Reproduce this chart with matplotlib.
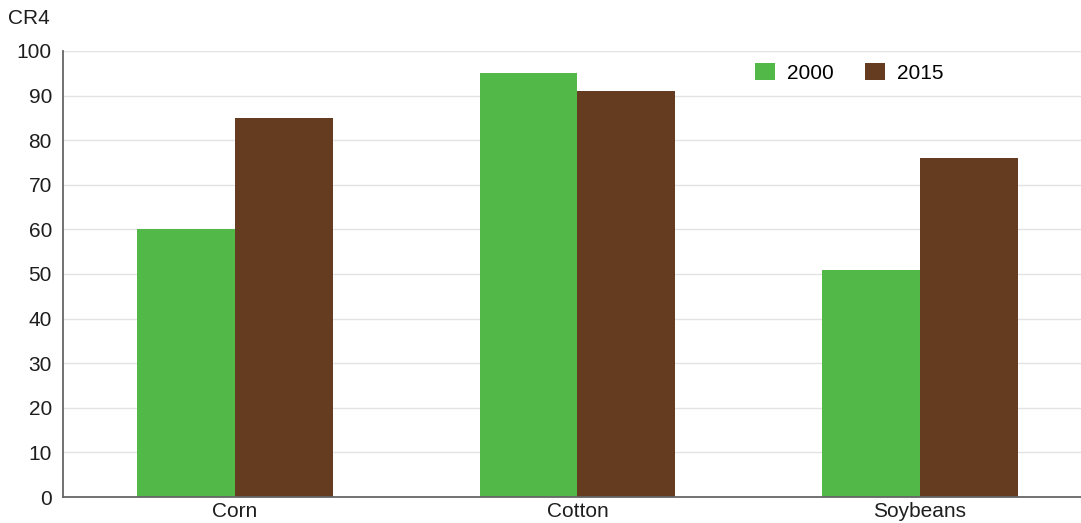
import numpy as np
from matplotlib import pyplot as plt

plt.rcParams['font.family'] = ['Liberation Sans', 'DejaVu Sans']

# Datos
categorias = ['Corn', 'Cotton', 'Soybeans']
anios = ['2000', '2015']
cr4_2000 = [60, 95, 51]
cr4_2015 = [85, 91, 76]

verde = '#52b848'
cafe = '#653c20'
texto = '#1e1e1e'

fig = plt.figure(figsize=(10.81, 5.23), dpi=100)
ax = fig.add_axes([0.0583, 0.0497, 0.9417, 0.8528])

x = np.arange(len(categorias))
w = 0.286
ax.bar(x - w/2, cr4_2000, w, color=verde, label=anios[0], zorder=2)
ax.bar(x + w/2, cr4_2015, w, color=cafe, label=anios[1], zorder=2)

ax.set_xlim(-0.502, 2.47)
ax.set_ylim(0, 100)
ax.set_yticks(np.arange(0, 101, 10))
ax.set_xticks(x)
ax.set_xticklabels(categorias)
ax.tick_params(axis='both', length=0, labelsize=15, colors=texto)
ax.tick_params(axis='x', pad=3.5)
ax.tick_params(axis='y', pad=8)
ax.grid(axis='y', color='#e3e3e3', linewidth=1, zorder=0)

for s in ['top', 'right']:
    ax.spines[s].set_visible(False)
ax.spines['left'].set_color('#666666')
ax.spines['bottom'].set_color('#666666')
ax.spines['left'].set_linewidth(1.3)
ax.spines['bottom'].set_linewidth(1.3)

fig.text(0.007, 0.965, 'CR4', fontsize=15, color=texto, va='center', ha='left')

ax.legend(loc='center left', bbox_to_anchor=(0.68, 0.951), ncol=2, frameon=False,
          fontsize=15, handlelength=0.96, handleheight=0.87, columnspacing=1.5,
          handletextpad=0.58, borderpad=0, borderaxespad=0)

fig.savefig('out.png', dpi=100)
